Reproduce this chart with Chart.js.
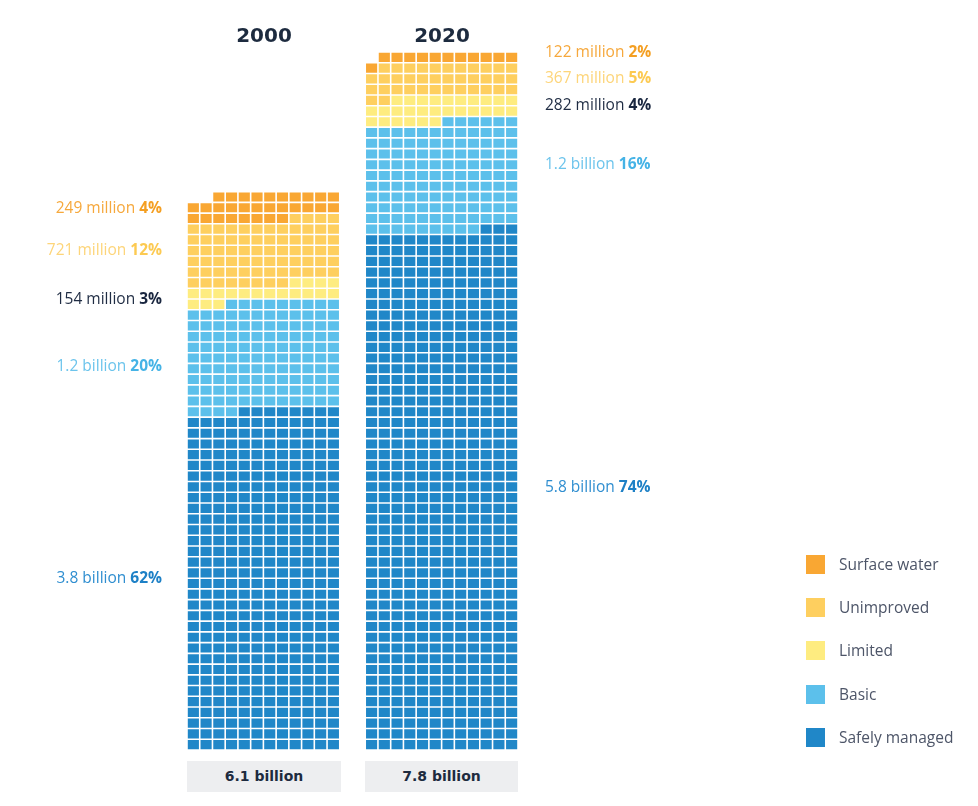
<!DOCTYPE html>
<html>
<head>
<meta charset="utf-8">
<script src="https://cdn.jsdelivr.net/npm/chart.js@4.4.1/dist/chart.umd.min.js"></script>
<style>
  body { margin: 0; background: #fff; }
  #wrap { position: relative; width: 978px; height: 806px; font-family: "Open Sans", Roboto, sans-serif; }
  #waffle { position: absolute; left: 0; top: 0; }
  .year { position: absolute; top: 23px; width: 154px; text-align: center; font-family: "DejaVu Sans", sans-serif; font-weight: 700; font-size: 20px; color: #1d2b3f; }
  .total { position: absolute; top: 761px; height: 31px; line-height: 31px; text-align: center; background: #edeef0; font-family: "DejaVu Sans", sans-serif; font-weight: 700; font-size: 14px; color: #1d2b3f; }
  .legend { position: absolute; left: 806px; top: 555px; }
  .legend div { position: relative; height: 43.2px; }
  .legend span.box { position: absolute; left: 0; top: 0; width: 19px; height: 19px; }
  .legend span.txt { position: absolute; left: 33px; top: -1px; line-height: 20px; font-size: 15.5px; color: #4d5568; white-space: nowrap; }
</style>
</head>
<body>
<div id="wrap">
  <canvas id="waffle" width="978" height="806"></canvas>
  <div class="year" style="left:187px">2000</div>
  <div class="year" style="left:365px">2020</div>
  <div class="total" style="left:187px;width:154px">6.1 billion</div>
  <div class="total" style="left:365px;width:153px">7.8 billion</div>
  <div class="legend" id="legend"></div>
</div>
<script>
// categories, top to bottom of each column
const categories = ['Surface water', 'Unimproved', 'Limited', 'Basic', 'Safely managed'];
const colors = ['#f9a733', '#fecf5f', '#feec80', '#5cc0eb', '#2087c8'];

// number of squares of each category, counted in the picture
const cells2000 = [30, 72, 19, 121, 380];
const cells2020 = [12, 37, 28, 123, 579];

// label texts
const amounts2000 = ['249 million', '721 million', '154 million', '1.2 billion', '3.8 billion'];
const shares2000 = ['4%', '12%', '3%', '20%', '62%'];
const amounts2020 = ['122 million', '367 million', '282 million', '1.2 billion', '5.8 billion'];
const shares2020 = ['2%', '5%', '4%', '16%', '74%'];

// label text colours (amount, share)
const amountColors = ['#f6a83c', '#fdd57a', '#1f2c43', '#6cc4ec', '#2f8ed0'];
const shareColors = ['#f49f22', '#fcca52', '#1a2740', '#45b3e6', '#1d80c6'];

// where the labels sit, in rows of squares from the bottom
const labelRows2000 = [50.45, 46.55, 41.9, 35.7, 16.0];
const labelRows2020 = [64.9, 62.5, 60.0, 54.5, 24.4];

const perRow = 12;

// x columns: 12 for 2000, 2 spacer, 12 for 2020
const columns = [];
for (let i = 1; i <= perRow; i++) columns.push('a' + i);
columns.push('gap1', 'gap2');
for (let i = 1; i <= perRow; i++) columns.push('b' + i);

// fill squares from the bottom, each row from right to left
function buildSquares(counts, prefix, year) {
    const sets = [];
    let idx = 0;
    for (let c = categories.length - 1; c >= 0; c--) {
        const pts = [];
        for (let k = 0; k < counts[c]; k++) {
            const row = Math.floor(idx / perRow);
            const col = perRow - (idx % perRow);
            pts.push({ x: prefix + col, y: [row, row + 1] });
            idx++;
        }
        sets.push({
            label: categories[c] + ' ' + year,
            data: pts,
            backgroundColor: colors[c],
            borderColor: '#ffffff',
            borderWidth: 0.8,
            borderSkipped: false,
            inflateAmount: 0,
            grouped: false,
            barPercentage: 1,
            categoryPercentage: 1
        });
    }
    return sets;
}

const sideLabels = {
    id: 'sideLabels',
    afterDraw(chart) {
        const ctx = chart.ctx;
        const y = chart.scales.y;
        const area = chart.chartArea;
        const normal = '15.5px "Open Sans", Roboto, sans-serif';
        const bold = 'bold 15.5px "Open Sans", Roboto, sans-serif';

        function put(amount, share, i, xPos, row, alignRight) {
            ctx.font = normal;
            const w1 = ctx.measureText(amount + ' ').width;
            ctx.font = bold;
            const w2 = ctx.measureText(share).width;
            let x0 = alignRight ? xPos - (w1 + w2) : xPos;
            const py = y.getPixelForValue(row);
            ctx.textBaseline = 'middle';
            ctx.textAlign = 'left';
            ctx.font = normal;
            ctx.fillStyle = amountColors[i];
            ctx.fillText(amount + ' ', x0, py);
            ctx.font = bold;
            ctx.fillStyle = shareColors[i];
            ctx.fillText(share, x0 + w1, py);
        }

        ctx.save();
        categories.forEach((c, i) => {
            put(amounts2000[i], shares2000[i], i, area.left - 25, labelRows2000[i], true);
            put(amounts2020[i], shares2020[i], i, area.right + 27, labelRows2020[i], false);
        });
        ctx.restore();
    }
};

const ctx = document.getElementById('waffle').getContext('2d');
new Chart(ctx, {
    type: 'bar',
    data: {
        labels: columns,
        datasets: buildSquares(cells2000, 'a', 2000).concat(buildSquares(cells2020, 'b', 2020))
    },
    options: {
        responsive: false,
        animation: false,
        events: [],
        layout: { padding: { left: 187, right: 460, top: 52, bottom: 56 } },
        scales: {
            x: { display: false, stacked: false },
            y: { display: false, min: 0, max: 65 }
        },
        plugins: {
            legend: { display: false },
            tooltip: { enabled: false }
        }
    },
    plugins: [sideLabels]
});

// legend
const legendBox = document.getElementById('legend');
categories.forEach((c, i) => {
    const item = document.createElement('div');
    item.innerHTML = '<span class="box" style="background:' + colors[i] + '"></span><span class="txt">' + c + '</span>';
    legendBox.appendChild(item);
});
</script>
</body>
</html>
